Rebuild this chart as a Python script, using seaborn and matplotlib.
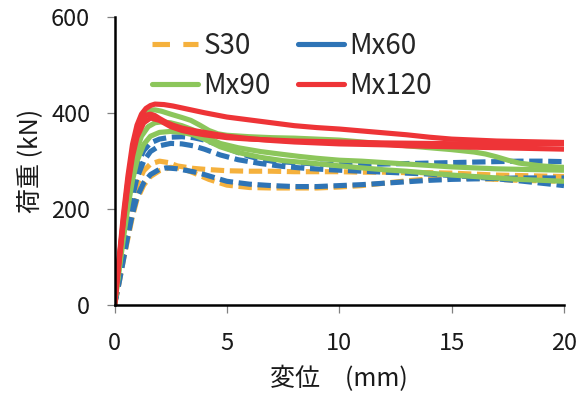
import matplotlib
matplotlib.use("Agg")
import matplotlib.pyplot as plt
from matplotlib.lines import Line2D
import seaborn as sns
import pandas as pd

# ---- load-displacement curves (displacement in mm, load in kN) ----
s30_a_x = [0, 0.2, 0.4, 0.6, 0.8, 1.0, 1.3, 1.6, 2.0, 2.4, 2.8, 3.5, 4.0, 5, 6, 7, 8, 9, 10, 11, 12, 13, 14, 15, 16, 17, 18, 19, 20]
s30_a_y = [0, 50, 105, 160, 210, 250, 280, 294, 300, 297, 290, 285, 283, 280, 279, 279, 278, 278, 278, 277, 277, 276, 276, 275, 273, 271, 270, 269, 268]
s30_b_x = [0, 0.2, 0.4, 0.6, 0.8, 1.0, 1.3, 1.6, 2.0, 2.5, 3.0, 3.5, 4.2, 5, 6, 7, 8, 9, 10, 11, 12, 13, 14, 15, 16, 17, 18, 19, 20]
s30_b_y = [0, 45, 95, 140, 185, 220, 250, 268, 280, 287, 285, 276, 262, 250, 245, 244, 244, 244, 246, 249, 254, 259, 263, 266, 264, 262, 260, 259, 258]

mx60_a_x = [0, 0.2, 0.4, 0.6, 0.8, 1.0, 1.3, 1.6, 2.0, 2.5, 3.0, 3.5, 4.0, 4.5, 5.0, 5.5, 6.0, 6.5, 7.0, 8.0, 9, 10, 11, 12, 13, 14, 15, 16, 17, 18, 19, 20]
mx60_a_y = [0, 60, 125, 190, 250, 290, 322, 338, 346, 350, 351, 349, 344, 336, 327, 318, 310, 304, 300, 297, 294, 293, 293, 294, 295, 296, 297, 298, 299, 300, 300, 299]
mx60_b_x = [0, 0.2, 0.4, 0.6, 0.8, 1.0, 1.3, 1.6, 2.0, 2.5, 3.0, 3.5, 4.0, 4.7, 5.5, 6.5, 7.5, 8.5, 9.6, 11, 12, 13, 14, 15, 16, 17, 18, 19, 20]
mx60_b_y = [0, 55, 115, 175, 225, 265, 300, 320, 332, 337, 336, 332, 325, 313, 303, 295, 289, 285, 282, 279, 277, 275, 273, 270, 267, 263, 259, 254, 249]
mx60_c_x = [0, 0.2, 0.4, 0.6, 0.8, 1.0, 1.3, 1.6, 2.0, 2.3, 2.8, 3.5, 4.0, 5.0, 6.0, 7.0, 8.0, 9.0, 10, 11, 12, 13, 14, 15, 16, 17, 18, 19, 20]
mx60_c_y = [0, 45, 95, 145, 190, 225, 255, 272, 283, 286, 284, 278, 272, 258, 252, 249, 247, 247, 249, 251, 254, 257, 260, 262, 263, 264, 265, 265, 265]

mx90_a_x = [0, 0.2, 0.4, 0.6, 0.8, 1.0, 1.2, 1.4, 1.6, 1.8, 2.1, 2.5, 3.0, 3.4, 3.8, 4.2, 4.6, 5.0, 6.0, 7.0, 8.0, 9, 10, 11, 12, 13, 14, 15, 16, 16.5, 17, 17.5, 18, 19, 20]
mx90_a_y = [0, 80, 165, 240, 305, 350, 380, 398, 406, 407, 404, 398, 391, 385, 375, 364, 357, 354, 351, 349, 348, 346, 344, 340, 336, 332, 328, 324, 319, 315, 309, 302, 296, 290, 287]
mx90_b_x = [0, 0.2, 0.4, 0.6, 0.8, 1.0, 1.2, 1.5, 1.8, 2.1, 2.5, 3.0, 3.5, 4.0, 4.7, 5.5, 6.5, 7.5, 8.2, 9, 10, 11, 12, 13, 14, 15, 16, 17, 18, 19, 20]
mx90_b_y = [0, 75, 150, 220, 280, 325, 352, 372, 380, 382, 380, 374, 365, 352, 337, 328, 320, 314, 310, 306, 302, 300, 297, 294, 291, 288, 286, 284, 283, 282, 281]
mx90_c_x = [0, 0.2, 0.4, 0.6, 0.8, 1.0, 1.3, 1.6, 2.0, 2.5, 3.0, 3.5, 4.0, 4.7, 5.5, 6.5, 7.5, 8.5, 9.6, 11, 12, 13, 14, 15, 16, 17, 18, 19, 20]
mx90_c_y = [0, 70, 140, 205, 260, 300, 335, 352, 360, 362, 360, 355, 346, 330, 318, 308, 301, 297, 292, 286, 282, 279, 275, 271, 268, 265, 262, 260, 258]

mx120_a_x = [0, 0.2, 0.4, 0.6, 0.8, 1.0, 1.2, 1.4, 1.6, 1.8, 2.2, 2.6, 3.0, 3.5, 4.0, 5.0, 6.0, 7.0, 8.0, 9.0, 10, 11, 12, 13, 14, 15, 16, 17, 18, 19, 20]
mx120_a_y = [0, 95, 190, 270, 335, 375, 398, 410, 416, 419, 418, 415, 411, 406, 401, 392, 386, 380, 374, 370, 367, 363, 359, 355, 350, 346, 344, 342, 341, 340, 339]
mx120_b_x = [0, 0.2, 0.4, 0.6, 0.8, 1.0, 1.2, 1.4, 1.6, 1.8, 2.0, 2.3, 2.6, 3.0, 3.5, 4.0, 5.0, 6.0, 7.0, 8.0, 9, 10, 11, 12, 13, 14, 15, 16, 17, 18, 19, 20]
mx120_b_y = [0, 90, 180, 260, 320, 360, 385, 396, 398, 395, 389, 381, 375, 369, 364, 360, 352, 347, 343, 340, 338, 336, 335, 334, 332, 331, 330, 329, 328, 327, 326, 325]
mx120_c_x = [0, 0.2, 0.4, 0.6, 0.8, 1.0, 1.3, 1.6, 2.0, 2.5, 3.0, 3.5, 4.0, 5.0, 6.0, 8.0, 10, 12, 14, 16, 18, 20]
mx120_c_y = [0, 88, 175, 250, 310, 350, 380, 390, 385, 372, 364, 359, 355, 349, 346, 342, 340, 338, 337, 336, 336, 336]

series_names = ["S30", "Mx60", "Mx90", "Mx120"]
series_colors = {"S30": "#F5B13D", "Mx60": "#2E74B6", "Mx90": "#8CC65B", "Mx120": "#EE3437"}
curves = [
    ("S30", s30_a_x, s30_a_y), ("S30", s30_b_x, s30_b_y),
    ("Mx60", mx60_a_x, mx60_a_y), ("Mx60", mx60_b_x, mx60_b_y), ("Mx60", mx60_c_x, mx60_c_y),
    ("Mx90", mx90_a_x, mx90_a_y), ("Mx90", mx90_b_x, mx90_b_y), ("Mx90", mx90_c_x, mx90_c_y),
    ("Mx120", mx120_a_x, mx120_a_y), ("Mx120", mx120_b_x, mx120_b_y), ("Mx120", mx120_c_x, mx120_c_y),
]
dashed = {"S30": True, "Mx60": True, "Mx90": False, "Mx120": False}

x_ticks = [0, 5, 10, 15, 20]
y_ticks = [0, 200, 400, 600]

sns.set_style("ticks")
plt.rcParams["font.family"] = ["Noto Sans CJK JP", "DejaVu Sans"]

fig = plt.figure(figsize=(5.8, 3.94), dpi=100)
ax = fig.add_axes([114.5 / 580, 1 - 305 / 394, (564 - 114.5) / 580, (305 - 17.3) / 394])

lw = 3.7
for name, xs, ys in curves:
    df = pd.DataFrame({"disp": xs, "load": ys})
    style = (0, (2.6, 1.1)) if dashed[name] else "-"
    sns.lineplot(data=df, x="disp", y="load", ax=ax, color=series_colors[name],
                 linewidth=lw, linestyle=style, estimator=None, sort=False,
                 solid_capstyle="butt", dash_capstyle="butt")

ax.set_xlim(0, 20)
ax.set_ylim(0, 600)
ax.set_xticks(x_ticks)
ax.set_yticks(y_ticks)
for side in ["top", "right"]:
    ax.spines[side].set_visible(False)
for side in ["left", "bottom"]:
    ax.spines[side].set_color("black")
    ax.spines[side].set_linewidth(1.8)
ax.tick_params(axis="both", direction="out", length=5.5, width=0.9, color="#808080",
               labelsize=17, labelcolor="#1a1a1a")
ax.tick_params(axis="y", pad=12)
ax.tick_params(axis="x", pad=14)
ax.set_xlabel("変位\u3000(mm)", fontsize=18, color="#1a1a1a", labelpad=8)
ax.set_ylabel("荷重 (kN)", fontsize=18, color="#1a1a1a", labelpad=6)

# legend filled column-wise: first row S30 / Mx60, second row Mx90 / Mx120
legend_handles = {
    "S30": Line2D([], [], color=series_colors["S30"], lw=lw, linestyle=(0, (3.4, 2.6))),
    "Mx60": Line2D([], [], color=series_colors["Mx60"], lw=lw),
    "Mx90": Line2D([], [], color=series_colors["Mx90"], lw=lw),
    "Mx120": Line2D([], [], color=series_colors["Mx120"], lw=lw),
}
legend_order = ["S30", "Mx90", "Mx60", "Mx120"]
ax.legend([legend_handles[n] for n in legend_order], legend_order, ncol=2, frameon=False,
          fontsize=20, loc="upper left", bbox_to_anchor=(0.028, 1.04),
          handlelength=1.66, handletextpad=0.18, columnspacing=1.0, labelspacing=0.37)

fig.savefig("out.png", dpi=100)
